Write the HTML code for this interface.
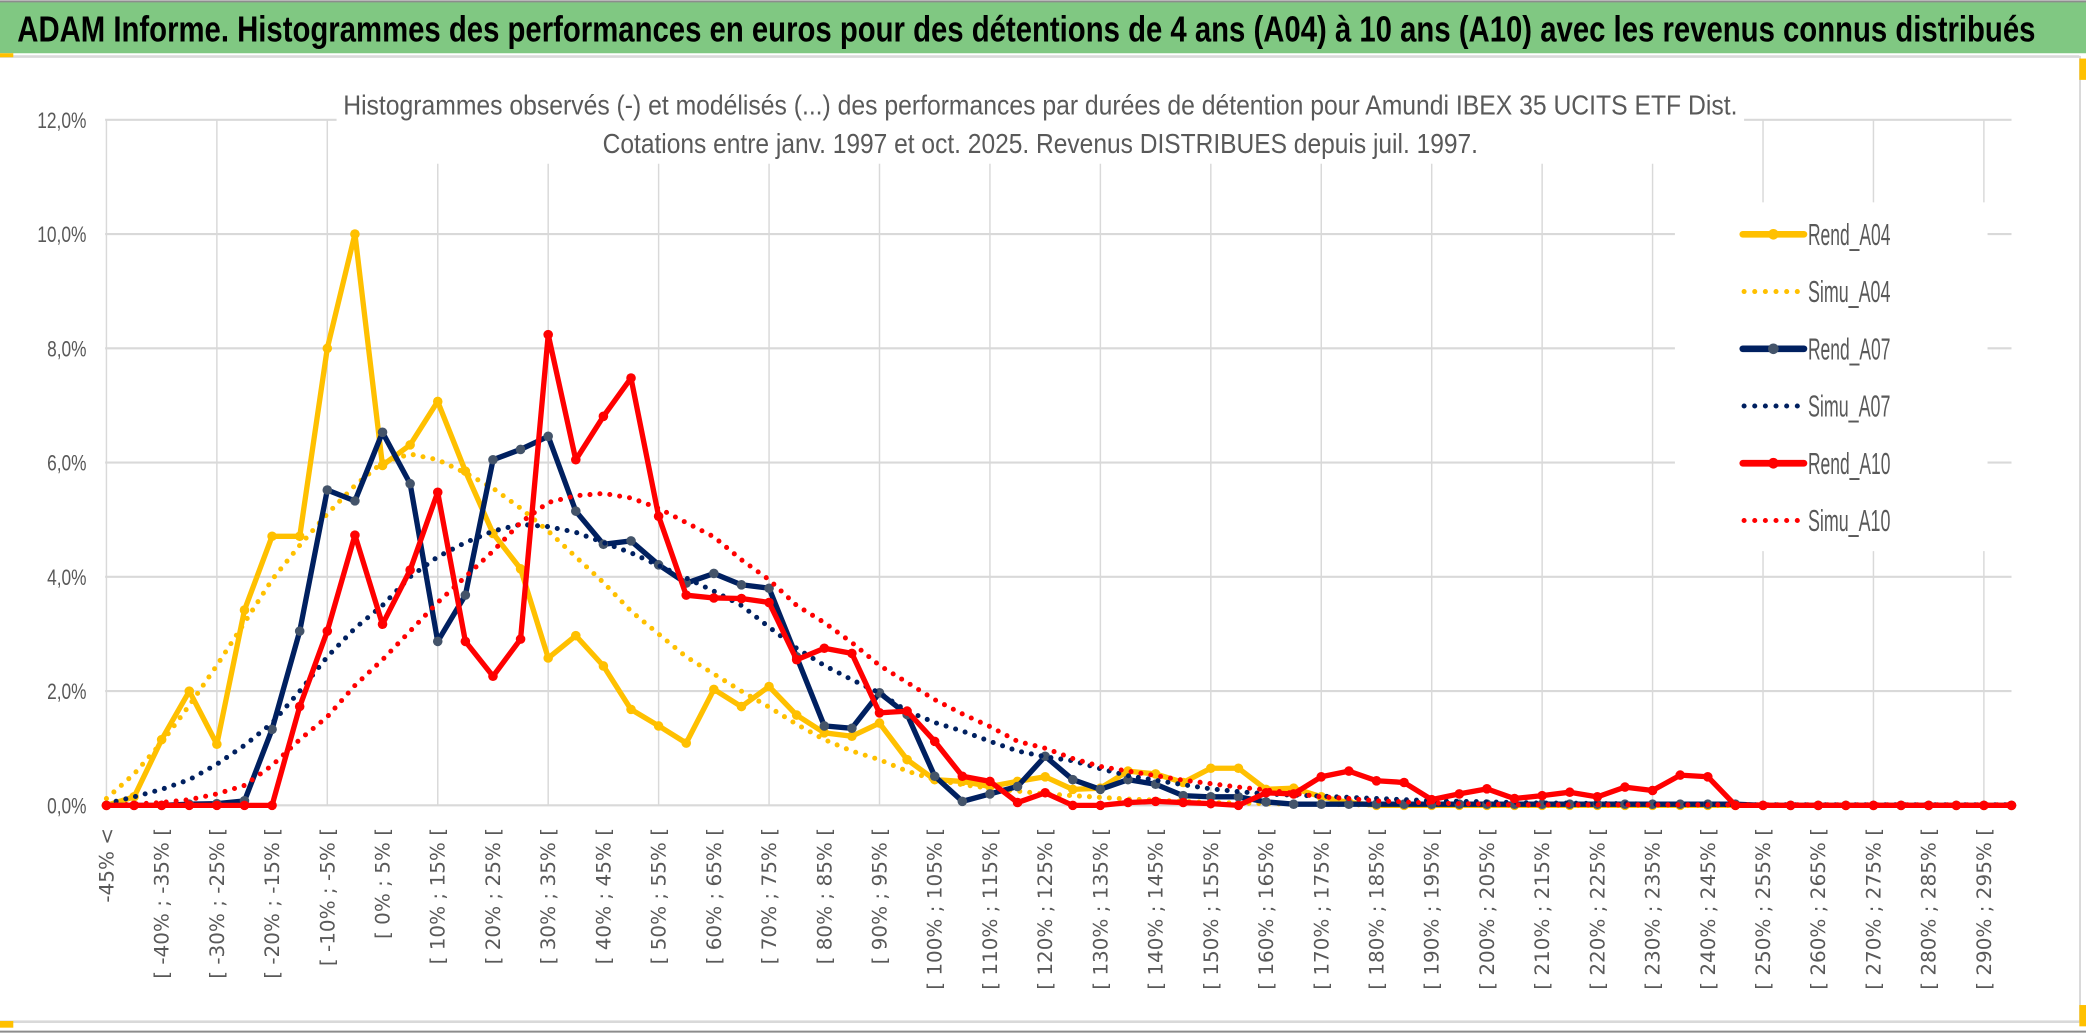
<!DOCTYPE html>
<html><head><meta charset="utf-8"><style>
html,body{margin:0;padding:0;background:#fff;}
svg{display:block;}
</style></head><body>
<svg id="chart" xmlns="http://www.w3.org/2000/svg" width="2086" height="1033" viewBox="0 0 1568 776" preserveAspectRatio="none">
<rect x="0" y="0" width="1568" height="776" fill="#fff"/>
<rect x="0" y="1" width="1568" height="39" fill="#80c882"/>
<line x1="0" y1="1" x2="1568" y2="1" stroke="#8c8c8c" stroke-width="1.5"/>
<text x="13" y="31" font-family="'Liberation Sans',sans-serif" font-weight="bold" font-size="27" fill="#000" textLength="1517" lengthAdjust="spacingAndGlyphs">ADAM Informe. Histogrammes des performances en euros pour des détentions de 4 ans (A04) à 10 ans (A10) avec les revenus connus distribués</text>
<line x1="0" y1="42.5" x2="1563" y2="42.5" stroke="#d9d9d9" stroke-width="2"/>
<line x1="1563.5" y1="42" x2="1563.5" y2="768" stroke="#d9d9d9" stroke-width="1.5"/>
<line x1="0" y1="767.5" x2="1563" y2="767.5" stroke="#d9d9d9" stroke-width="2"/>
<line x1="0" y1="775" x2="1568" y2="775" stroke="#8c8c8c" stroke-width="1.5"/>
<rect x="0" y="40" width="10" height="3" fill="#ffc000"/>
<rect x="0" y="767" width="10" height="5" fill="#ffc000"/>
<rect x="1563" y="44" width="5" height="16" fill="#ffc000"/>
<rect x="1563" y="755" width="5" height="16" fill="#ffc000"/>
<g id="grid"></g>
<rect x="253" y="58" width="1058" height="65" fill="#fff"/>
<rect x="1259" y="152" width="235" height="262" fill="#fff"/>
<text x="258" y="86" font-family="'Liberation Sans',sans-serif" font-size="21" fill="#595959" textLength="1048" lengthAdjust="spacingAndGlyphs">Histogrammes observés (-) et modélisés (...) des performances par durées de détention pour Amundi IBEX 35 UCITS ETF Dist.</text>
<text x="453" y="115" font-family="'Liberation Sans',sans-serif" font-size="21" fill="#595959" textLength="658" lengthAdjust="spacingAndGlyphs">Cotations entre janv. 1997 et oct. 2025. Revenus DISTRIBUES depuis juil. 1997.</text>
<g id="yaxis"></g>
<g id="xaxis"></g>
<g id="series"></g>
<g id="legend"></g>
</svg>
<script>
const categories = [];
for (let k = 0; k < 70; k++) {
  if (k === 0) categories.push('-45% <');
  else { const lo = -50 + 5 * k; categories.push('[ ' + lo + '% ; ' + (lo + 5) + '% ['); }
}
const yTicks = [0, 2, 4, 6, 8, 10, 12];
const yTickLabels = ['0,0%', '2,0%', '4,0%', '6,0%', '8,0%', '10,0%', '12,0%'];
const seriesNames = ['Rend_A04', 'Simu_A04', 'Rend_A07', 'Simu_A07', 'Rend_A10', 'Simu_A10'];
const rendA04 = [0,0.15,1.15,2.0,1.07,3.42,4.71,4.71,8.0,10.0,5.95,6.31,7.07,5.85,4.76,4.14,2.58,2.97,2.44,1.68,1.39,1.09,2.03,1.73,2.08,1.58,1.27,1.21,1.44,0.8,0.45,0.42,0.33,0.42,0.5,0.28,0.3,0.6,0.55,0.4,0.65,0.65,0.28,0.3,0.15,0.05,0,0,0,0,0,0,0,0,0,0,0,0,0,0,0,0,0,0,0,0,0,0,0,0];
const simuA04 = [0.12,0.55,1.1,1.75,2.45,3.2,3.95,4.55,5.1,5.6,6.0,6.15,6.05,5.82,5.55,5.2,4.8,4.35,3.9,3.4,3.0,2.6,2.3,2.0,1.72,1.42,1.15,0.95,0.8,0.6,0.45,0.36,0.3,0.25,0.2,0.17,0.14,0.11,0.09,0.07,0.05,0.04,0.03,0.02,0.02,0.01,0.01,0.01,0.01,0,0,0,0,0,0,0,0,0,0,0,0,0,0,0,0,0,0,0,0,0];
const rendA07 = [0,0,0,0.02,0.03,0.08,1.33,3.05,5.52,5.33,6.53,5.63,2.87,3.68,6.05,6.23,6.46,5.15,4.57,4.63,4.21,3.89,4.06,3.86,3.8,2.6,1.39,1.35,1.97,1.59,0.51,0.07,0.2,0.33,0.86,0.45,0.28,0.45,0.37,0.17,0.15,0.15,0.06,0.02,0.02,0.02,0.02,0.02,0.02,0.02,0.02,0.02,0.02,0.02,0.02,0.02,0.02,0.02,0.02,0.02,0,0,0,0,0,0,0,0,0,0];
const simuA07 = [0.03,0.15,0.28,0.45,0.72,1.05,1.44,2.0,2.6,3.1,3.5,4.0,4.35,4.6,4.8,4.92,4.88,4.78,4.6,4.42,4.2,3.98,3.75,3.5,3.12,2.75,2.45,2.2,1.97,1.65,1.45,1.3,1.12,0.95,0.85,0.78,0.64,0.52,0.44,0.36,0.29,0.24,0.2,0.18,0.16,0.14,0.12,0.1,0.08,0.07,0.06,0.05,0.04,0.04,0.03,0.03,0.02,0.02,0.02,0.01,0.01,0.01,0.01,0.01,0.01,0.01,0.01,0.01,0.01,0.01];
const rendA10 = [0,0,0,0,0,0,0,1.73,3.05,4.73,3.17,4.12,5.48,2.87,2.26,2.91,8.24,6.05,6.81,7.48,5.06,3.68,3.63,3.62,3.55,2.55,2.75,2.66,1.62,1.65,1.12,0.51,0.42,0.05,0.22,0,0,0.05,0.07,0.05,0.03,0,0.22,0.2,0.5,0.6,0.43,0.4,0.1,0.2,0.29,0.12,0.17,0.23,0.15,0.32,0.26,0.53,0.5,0,0,0,0,0,0,0,0,0,0,0];
const simuA10 = [0,0.02,0.05,0.1,0.2,0.35,0.7,1.15,1.55,2.1,2.55,3.05,3.55,4.0,4.45,4.95,5.3,5.42,5.46,5.38,5.2,4.95,4.7,4.3,3.95,3.5,3.2,2.85,2.45,2.15,1.85,1.6,1.38,1.12,1.0,0.82,0.68,0.6,0.52,0.44,0.38,0.32,0.27,0.21,0.15,0.12,0.08,0.06,0.04,0.03,0.02,0.01,0.01,0.01,0.01,0.01,0.01,0.01,0.01,0.01,0.01,0.01,0.01,0.01,0.01,0.01,0.01,0.01,0.01,0.01];

const NS = 'http://www.w3.org/2000/svg';
const X0 = 80, X1 = 1512, Y0 = 605, YTOP = 90, YMAX = 12;
const step = (X1 - X0) / (categories.length - 1);
function xPos(i) { return X0 + i * step; }
function yPos(v) { return Y0 - (v / YMAX) * (Y0 - YTOP); }
function mk(tag, attrs, parent) {
  const e = document.createElementNS(NS, tag);
  for (const k in attrs) e.setAttribute(k, attrs[k]);
  parent.appendChild(e);
  return e;
}
const grid = document.getElementById('grid');
yTicks.forEach(function (t) {
  const l = mk('line', {x1: X0 - 1, x2: X1, y1: yPos(t), y2: yPos(t), stroke: '#d9d9d9', 'stroke-width': 1.6}, grid);
  
  
});
for (let i = 0; i < categories.length; i += 4) {
  const x = xPos(i);
  const l = mk('line', {x1: x, x2: x, y1: YTOP, y2: Y0, stroke: '#d9d9d9', 'stroke-width': 1.1}, grid);
  
  
}
const yaxis = document.getElementById('yaxis');
yTicks.forEach(function (t, i) {
  const tx = mk('text', {x: 65, y: yPos(t) + 6, 'text-anchor': 'end', 'font-family': "'Liberation Sans',sans-serif", 'font-size': 17, fill: '#595959', textLength: yTickLabels[i].length * 7.4, lengthAdjust: 'spacingAndGlyphs'}, yaxis);
  tx.textContent = yTickLabels[i];
  
  
});
const xaxis = document.getElementById('xaxis');
categories.forEach(function (c, i) {
  if (i % 2 !== 0) return;
  const x = xPos(i);
  const tx = mk('text', {x: 0, y: 0, transform: 'translate(' + x + ',622) rotate(-90)', 'text-anchor': 'end', 'dominant-baseline': 'central', 'font-family': "'DejaVu Sans',sans-serif", 'font-size': 15, fill: '#595959'}, xaxis);
  tx.setAttribute('xml:space', 'preserve');
  tx.textContent = c;
  
  
});
const seriesG = document.getElementById('series');
function pts(arr) { return arr.map(function (v, i) { return xPos(i).toFixed(1) + ',' + yPos(v).toFixed(1); }).join(' '); }
function drawRend(arr, color, mcolor, name) {
  const g = mk('g', {}, seriesG);
  
  
  mk('polyline', {points: pts(arr), fill: 'none', stroke: color, 'stroke-width': 4, 'stroke-linejoin': 'round'}, g);
  arr.forEach(function (v, i) {
    const c = mk('circle', {cx: xPos(i), cy: yPos(v), r: 3.6, fill: mcolor}, g);
    
    
  });
}
function drawSimu(arr, color, name) {
  const p = mk('polyline', {points: pts(arr), fill: 'none', stroke: color, 'stroke-width': 3.8, 'stroke-linecap': 'round', 'stroke-dasharray': '0 7.5'}, seriesG);
  
  
}
drawRend(rendA04, '#ffc000', '#ffc000', 'rend-a04-line');
drawSimu(simuA04, '#ffc000', 'simu-a04-line');
drawRend(rendA07, '#002060', '#44546a', 'rend-a07-line');
drawSimu(simuA07, '#002060', 'simu-a07-line');
drawRend(rendA10, '#ff0000', '#ff0000', 'rend-a10-line');
drawSimu(simuA10, '#ff0000', 'simu-a10-line');

const legendColors = ['#ffc000', '#ffc000', '#002060', '#002060', '#ff0000', '#ff0000'];
const legendMarkers = ['#ffc000', '#ffc000', '#44546a', '#002060', '#ff0000', '#ff0000'];
const legend = document.getElementById('legend');
seriesNames.forEach(function (n, i) {
  const y = 176 + i * 43;
  const g = mk('g', {}, legend);
  
  
  if (i % 2 === 0) {
    mk('line', {x1: 1310, x2: 1356, y1: y, y2: y, stroke: legendColors[i], 'stroke-width': 5, 'stroke-linecap': 'round'}, g);
    mk('circle', {cx: 1333, cy: y, r: 4, fill: legendMarkers[i]}, g);
  } else {
    mk('line', {x1: 1311, x2: 1356, y1: y, y2: y, stroke: legendColors[i], 'stroke-width': 3.8, 'stroke-linecap': 'round', 'stroke-dasharray': '0 8'}, g);
  }
  const t = mk('text', {x: 1359, y: y + 8, 'font-family': "'Liberation Sans',sans-serif", 'font-size': 23, fill: '#595959', textLength: 62, lengthAdjust: 'spacingAndGlyphs'}, g);
  t.textContent = n;
});
</script>
</body></html>
